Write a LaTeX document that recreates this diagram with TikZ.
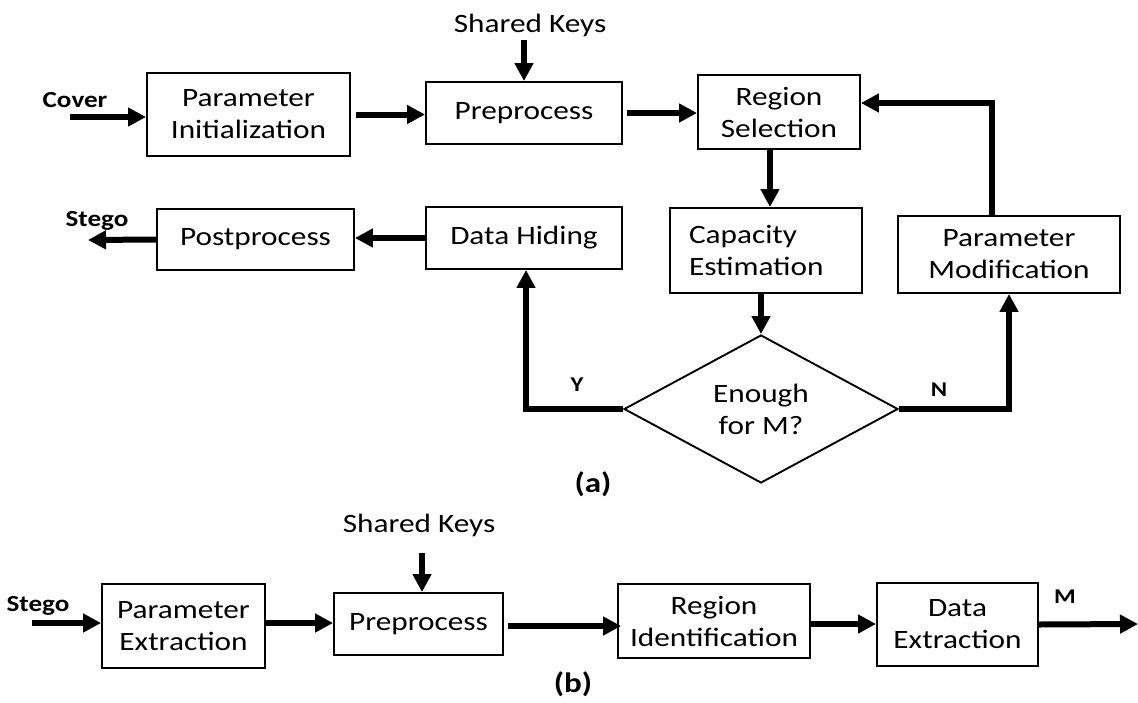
\documentclass[tikz,border=0pt]{standalone}
\usepackage{fontspec}
\setmainfont{Carlito}[FakeStretch=1.18]
\usetikzlibrary{arrows.meta,shapes.geometric}
\begin{document}
\begin{tikzpicture}[x=1pt,y=-1pt,
  box/.style={draw,line width=1.9pt,inner sep=0pt,align=center,font=\fontsize{26.5}{32}\selectfont},
  arr/.style={line width=6pt,-{Triangle[length=18pt,width=18pt]}},
  lbl/.style={font=\bfseries\fontsize{23}{26}\selectfont,inner sep=0pt},
  yn/.style={font=\bfseries\fontsize{21}{24}\selectfont,inner sep=0pt},
  captxt/.style={font=\bfseries\fontsize{28}{32}\selectfont,inner sep=0pt},
  plain/.style={font=\fontsize{26.5}{32}\selectfont,inner sep=0pt}]
\useasboundingbox (0,0) rectangle (1138,702);
% ---------- (a) ----------
\node[box,minimum width=203pt,minimum height=83pt] (init) at (248.5,114.5) {Parameter\\Initialization};
\node[box,minimum width=196pt,minimum height=62pt] (pre) at (524,113) {Preprocess};
\node[box,minimum width=162pt,minimum height=74pt] (reg) at (779,112) {Region\\Selection};
\node[box,minimum width=197pt,minimum height=61pt] (post) at (255.5,239.5) {Postprocess};
\node[box,minimum width=196pt,minimum height=62pt] (hide) at (524,238) {Data Hiding};
\node[box,minimum width=192pt,minimum height=85pt,align=left,text width=154pt] (capest) at (766,250.5) {Capacity\\Estimation};
\node[box,minimum width=222pt,minimum height=77pt] (mod) at (1009,254.5) {Parameter\\Modification};
\node[box,shape=diamond,minimum width=274pt,minimum height=148pt] (dia) at (761,409) {Enough\\for M?};

\node[plain] (sk1) at (530,25) {Shared Keys};
\coordinate (sk1s) at (524,40);
\node[lbl] (cover) at (75,100) {Cover};
\coordinate (cin) at (70,117);
\node[lbl] (stego1) at (97,221) {Stego};
\coordinate (sout) at (88,240);
\node[yn] (ylab) at (577,385) {Y};
\node[yn] (nlab) at (939,390) {N};
\node[captxt] (capa) at (593,484) {(a)};

\draw[arr] (cin) -- (cin -| init.west);
\draw[arr] ([xshift=5pt]init.east) -- (init.east -| pre.west);
\draw[arr] (sk1s) -- (sk1s |- pre.north);
\draw[arr] ([xshift=4pt]pre.east) -- (pre.east -| reg.west);
\draw[arr] ([xshift=-9pt]reg.south) -- ([xshift=-9pt]reg.south |- capest.north);
\draw[arr] (capest.south -| dia.north) -- (dia.north);
\draw[arr] ([xshift=-17pt]mod.north) |- ([yshift=9pt]reg.east);
\draw[arr] (dia.east) -| (mod.south);
\draw[arr] (dia.west) -| ([xshift=2pt]hide.south);
\draw[arr] (hide.west) -- (hide.west -| post.east);
\draw[arr] (post.west) -- (sout);

% ---------- (b) ----------
\node[box,minimum width=163pt,minimum height=84pt] (pext) at (183.5,626) {Parameter\\Extraction};
\node[box,minimum width=169pt,minimum height=62pt] (pre2) at (418.5,624) {Preprocess};
\node[box,minimum width=192pt,minimum height=74pt] (rid) at (714,621) {Region\\Identification};
\node[box,minimum width=161pt,minimum height=83pt] (dext) at (957.5,624.5) {Data\\Extraction};

\node[plain] (sk2) at (419,525) {Shared Keys};
\coordinate (sk2s) at (422,553);
\node[lbl] (stego2) at (38,606) {Stego};
\coordinate (sin) at (32,623);
\node[yn] (mlab) at (1065,597) {M};
\coordinate (mout) at (1138,624);
\node[captxt] (capb) at (573,684) {(b)};

\draw[arr] (sin) -- (sin -| pext.west);
\draw[arr] ([yshift=3pt]pext.east) -- ([yshift=3pt]pext.east -| pre2.west);
\draw[arr] (sk2s) -- (sk2s |- pre2.north);
\draw[arr] ([xshift=4pt,yshift=-2pt]pre2.east) -- ([xshift=4pt,yshift=-2pt]pre2.east -| rid.west);
\draw[arr] ([yshift=-3pt]rid.east) -- ([yshift=-3pt]rid.east -| dext.west);
\draw[arr] (dext.east) -- (mout);
\end{tikzpicture}
\end{document}
